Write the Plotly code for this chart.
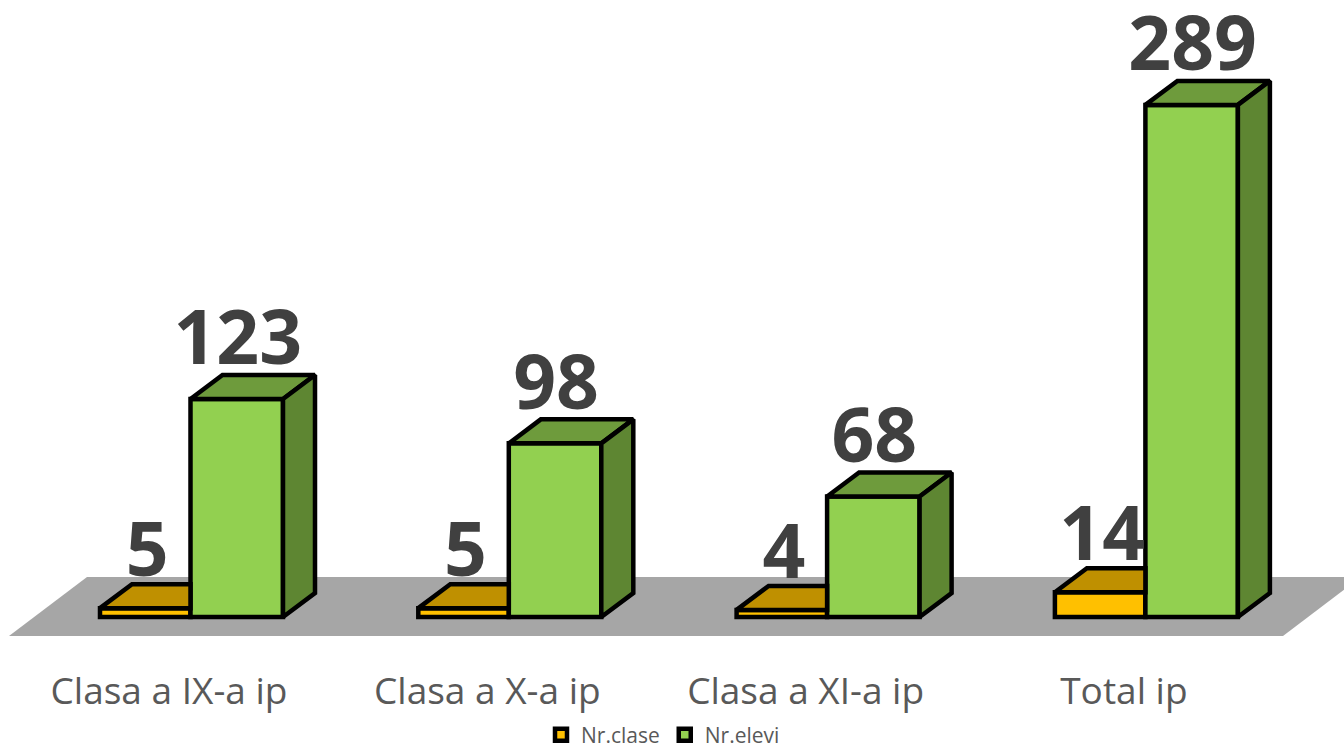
import plotly.graph_objects as go

categories = ["Clasa a IX-a ip", "Clasa a X-a ip", "Clasa a XI-a ip", "Total ip"]
nr_clase = [5, 5, 4, 14]
nr_elevi = [123, 98, 68, 289]

W, H = 1344, 748
MB = 100
PX_PER_CAT = 318.3
PX_PER_VAL = 1.772
X0_PX, Y0_PX = 169.0, 617.0   # pixel of first category label / of value 0

def ux(px): return (px - X0_PX) / PX_PER_CAT
def uy(px): return (Y0_PX - px) / PX_PER_VAL

BAR_W = 92.5 / PX_PER_CAT
ORANGE_W = 90.5 / PX_PER_CAT
DX = 32 / PX_PER_CAT
DY = 24 / PX_PER_VAL
MID_OFF = ux(190.5)        # left edge of green bar relative to category
LEFT_OFF = MID_OFF - ORANGE_W
LW = 4.5
BLACK = "#000000"

idx = list(range(len(categories)))
xs_orange = [i + LEFT_OFF + ORANGE_W / 2 for i in idx]
xs_green = [i + MID_OFF + BAR_W / 2 for i in idx]

def polys(rows):
    xs, ys = [], []
    for pts in rows:
        xs += [p[0] for p in pts] + [pts[0][0], None]
        ys += [p[1] for p in pts] + [pts[0][1], None]
    return xs, ys

fig = go.Figure()
fig.add_bar(x=xs_orange, y=nr_clase, width=ORANGE_W, name="Nr.clase",
            marker=dict(color="#FFC000", line=dict(color=BLACK, width=LW)))
fig.add_bar(x=xs_green, y=nr_elevi, width=BAR_W, name="Nr.elevi",
            marker=dict(color="#92D050", line=dict(color=BLACK, width=LW)))

def face(rows, color):
    x, y = polys(rows)
    fig.add_scatter(x=x, y=y, mode="lines", fill="toself", fillcolor=color,
                    line=dict(color=BLACK, width=LW), showlegend=False, hoverinfo="skip")

# orange top: back edge stops at the green bar
face([[(i + LEFT_OFF, v), (i + LEFT_OFF + DX, v + DY), (i + MID_OFF, v + DY), (i + MID_OFF, v)]
      for i, v in zip(idx, nr_clase)], "#BF9000")
# green top
face([[(i + MID_OFF, v), (i + MID_OFF + DX, v + DY),
       (i + MID_OFF + BAR_W + DX, v + DY), (i + MID_OFF + BAR_W, v)]
      for i, v in zip(idx, nr_elevi)], "#6E9B3C")
# green side
face([[(i + MID_OFF + BAR_W, 0), (i + MID_OFF + BAR_W + DX, DY),
       (i + MID_OFF + BAR_W + DX, v + DY), (i + MID_OFF + BAR_W, v)]
      for i, v in zip(idx, nr_elevi)], "#5E8632")

LABEL_FONT = dict(family="Open Sans", size=75, color="#404040", weight=700)
for xs, vals, shift_x, gap in ((xs_orange, nr_clase, 2 / PX_PER_CAT, DY - 6),
                               (xs_green, nr_elevi, 1 / PX_PER_CAT, DY - 4.5)):
    fig.add_scatter(x=[a + shift_x for a in xs], y=[v + gap for v in vals], mode="text",
                    text=[str(v) for v in vals], textposition="top center",
                    textfont=LABEL_FONT, showlegend=False, hoverinfo="skip",
                    cliponaxis=False)

floor = [(9, 636), (1283, 636), (1361, 577), (87, 577)]
path = "M " + " L ".join(f"{ux(a)},{uy(b)}" for a, b in floor) + " Z"
fig.add_shape(type="path", path=path, xref="x", yref="y", layer="below",
              fillcolor="#A6A6A6", line=dict(width=0))

fig.update_layout(
    width=W, height=H, autosize=False,
    margin=dict(l=0, r=0, t=0, b=MB, autoexpand=False),
    paper_bgcolor="white", plot_bgcolor="white",
    barmode="overlay", hovermode=False,
    showlegend=True,
    legend=dict(orientation="h", xref="container", yref="container",
                x=541 / W, xanchor="left", y=(H - 735) / H, yanchor="middle",
                font=dict(family="Open Sans", size=21, color="#595959"),
                bgcolor="rgba(0,0,0,0)", traceorder="normal"),
    xaxis=dict(range=[ux(0), ux(W)], tickmode="array", tickvals=idx, ticktext=categories,
               showgrid=False, zeroline=False, showline=False, ticks="",
               ticklabelstandoff=18,
               tickfont=dict(family="Open Sans", size=37, color="#595959")),
    yaxis=dict(range=[uy(H - MB), uy(0)], visible=False, showgrid=False, zeroline=False),
)

fig.write_html("out.html", config={"displayModeBar": False},
               post_script="document.documentElement.style.margin='0';document.body.style.margin='0';window.scrollTo(0,0);")
